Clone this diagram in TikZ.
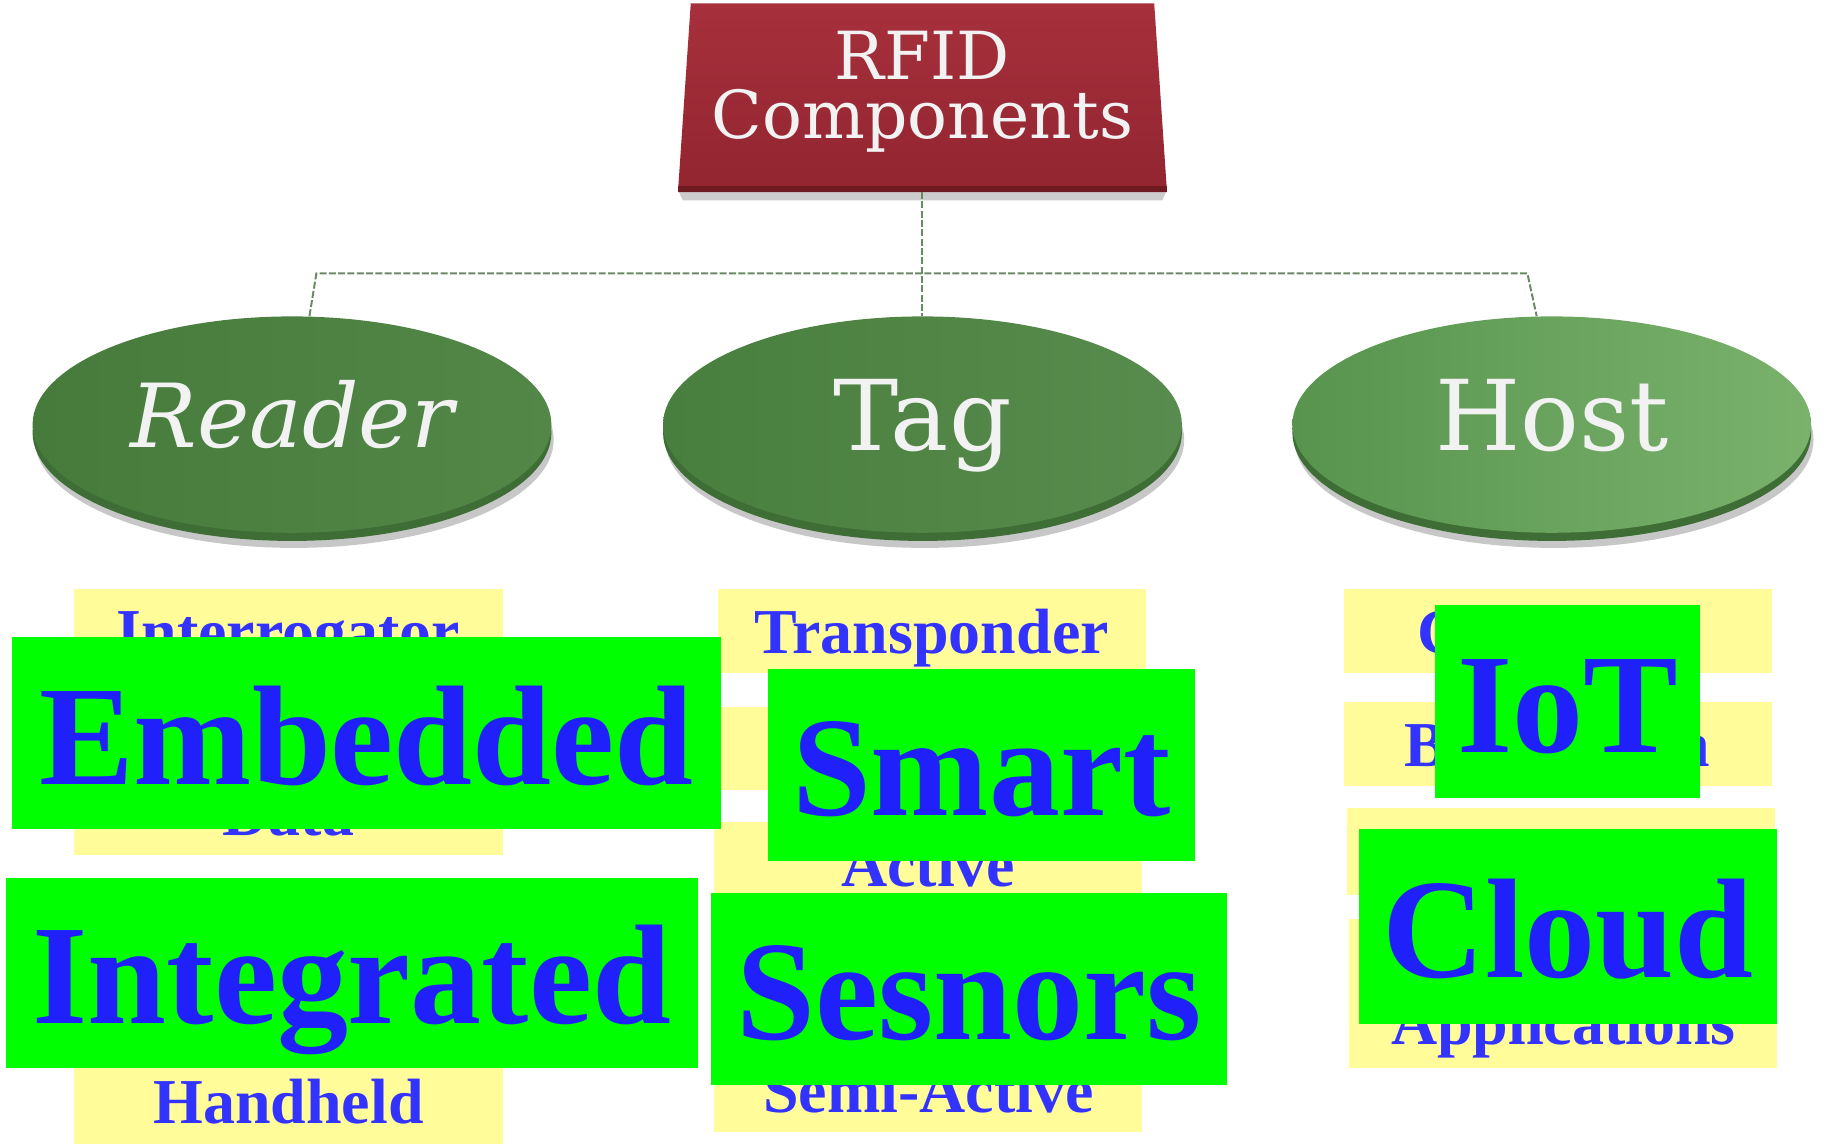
\documentclass[tikz,border=0pt]{standalone}
\usepackage{fontspec}
\setmainfont{Liberation Serif}
\newfontfamily\ttlfont{DejaVu Serif}
\usetikzlibrary{shapes.geometric,shadows}
\definecolor{redA}{RGB}{166,48,60}
\definecolor{redB}{RGB}{146,37,48}
\definecolor{redC}{RGB}{112,26,34}
\definecolor{conncol}{RGB}{105,138,100}
\definecolor{rimcol}{RGB}{62,110,54}
\definecolor{diskRa}{RGB}{70,123,60}
\definecolor{diskRb}{RGB}{82,135,72}
\definecolor{diskTa}{RGB}{72,126,62}
\definecolor{diskTb}{RGB}{88,140,78}
\definecolor{diskHa}{RGB}{88,148,78}
\definecolor{diskHb}{RGB}{122,178,108}
\definecolor{ylw}{RGB}{255,252,153}
\definecolor{ytxt}{RGB}{51,51,255}
\definecolor{gtxt}{RGB}{32,32,250}
\definecolor{gfill}{RGB}{0,255,0}
\tikzset{
  conn/.style={draw=conncol, line width=1.7pt, dash pattern=on 6pt off 2pt},
  disk/.style={ellipse, inner sep=0pt, minimum width=446pt, minimum height=186pt, text=white!95!black,
     font=\ttlfont\fontsize{84pt}{88pt}\selectfont, text height=54pt, text depth=10pt,
     drop shadow={shadow xshift=2pt, shadow yshift=-13pt, opacity=.22, fill=black},
     general shadow={shadow yshift=-7pt, fill=rimcol}},
  ybox/.style={fill=ylw, inner sep=0pt, minimum width=368pt, minimum height=72pt, text=ytxt,
     font=\bfseries\fontsize{55pt}{60pt}\selectfont, text height=38pt, text depth=0pt},
  gbox/.style={fill=gfill, inner sep=0pt, text=gtxt,
     font=\bfseries\fontsize{122pt}{130pt}\selectfont, text height=87pt, text depth=0pt},
  ttl/.style={text=white!95!black, inner sep=0pt, font=\ttlfont\fontsize{57pt}{62pt}\selectfont},
  titlebox/.style={inner sep=0pt, minimum width=420pt, minimum height=162pt}
}
\begin{document}
\begin{tikzpicture}[x=1pt,y=-1pt]
\useasboundingbox (0,0) rectangle (1568,984);
% title box
\node[titlebox] (title) at (793,84) {};
\fill[black!40, opacity=.5] ([xshift=1pt]title.south west) -- ([xshift=-1pt]title.south east)
   -- ([xshift=-4pt,yshift=-7pt]title.south east) -- ([xshift=4pt,yshift=-7pt]title.south west) -- cycle;
\shade[top color=redA, bottom color=redB] ([xshift=11pt]title.north west) -- ([xshift=-11pt]title.north east)
   -- (title.south east) -- (title.south west) -- cycle;
\fill[redC] ([yshift=5pt]title.south west) -- ([yshift=5pt]title.south east) -- (title.south east) -- (title.south west) -- cycle;
\node[ttl, anchor=base] (ttlA) at (793,68) {RFID};
\node[ttl, anchor=base] (ttlB) at (793,119) {Components};
% disks
\node[disk, left color=diskRa, right color=diskRb, font=\ttlfont\itshape\fontsize{76pt}{80pt}\selectfont, text height=50pt, text depth=10pt] (reader) at (251,365) {Reader};
\node[disk, left color=diskTa, right color=diskTb] (tag) at (793,365) {Tag};
\node[disk, left color=diskHa, right color=diskHb] (host) at (1334,365) {Host};
% connectors
\coordinate (barL) at (272,235);
\coordinate (barR) at (1313,235);
\draw[conn] (title.south) -- (tag.north);
\draw[conn] ([xshift=15pt]reader.north) -- (barL) -- (barR) -- ([xshift=-13pt]host.north);
% yellow boxes
\node[ybox] (r1) at (248,542.5) {Interrogator};
\node[ybox] (r3) at (248,699) {Data};
\node[ybox] (r4) at (248,947) {Handheld};
\node[ybox] (t1) at (801,542.5) {Transponder};
\node[ybox] (t2) at (801,643.5) {};
\node[ybox] (t3) at (798,743) {Active};
\node[ybox] (t4) at (798,937) {Semi-Active};
\node[ybox] (h1) at (1339,542.5) {Computer};
\node[ybox] (h2) at (1339,639.5) {Blockchain};
\node[ybox, minimum height=74pt] (h3) at (1342,732) {};
\node[ybox, minimum height=128pt, text height=88pt] (h4) at (1344,854) {Applications};
% green boxes
\node[gbox, minimum width=610pt, minimum height=165pt] (emb) at (315,630.5) {Embedded};
\node[gbox, minimum width=595pt, minimum height=163pt] (integ) at (302.5,836.5) {Integrated};
\node[gbox, minimum width=367pt, minimum height=165pt] (smart) at (843.5,657.5) {Smart};
\node[gbox, minimum width=444pt, minimum height=165pt] (sens) at (833,850.5) {Sesnors};
\node[gbox, minimum width=227pt, minimum height=166pt] (iot) at (1347.5,603) {IoT};
\node[gbox, minimum width=360pt, minimum height=167pt] (cloud) at (1348,796.5) {Cloud};
\end{tikzpicture}
\end{document}
